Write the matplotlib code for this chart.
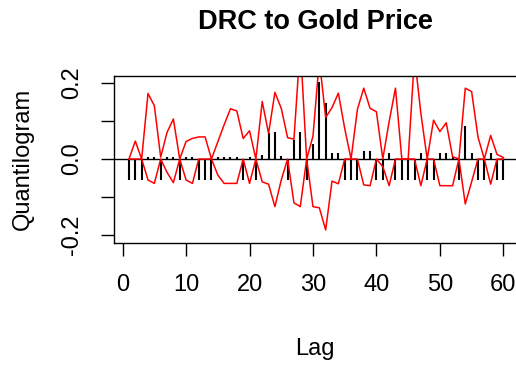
import numpy as np
import matplotlib
matplotlib.use("Agg")
import matplotlib.pyplot as plt

plt.rcParams['font.family'] = ['Liberation Sans', 'DejaVu Sans']

# quantilogram values, lags 1..60
lags = np.arange(1, 61)
q = [-0.056, -0.056, -0.056, 0.005, 0.005, -0.056, 0.005, 0.005, -0.056, 0.005,
     0.005, -0.056, -0.056, -0.056, 0.005, 0.005, 0.005, 0.005, -0.056, 0.005,
     -0.056, 0.010, 0.069, 0.071, 0.008, -0.056, 0.050, 0.071, -0.056, 0.040,
     0.203, 0.148, 0.017, 0.017, -0.056, -0.056, -0.056, 0.021, 0.021, -0.056,
     -0.056, 0.017, -0.056, -0.056, -0.056, -0.056, 0.015, -0.056, -0.056, 0.015,
     0.015, 0.005, -0.056, 0.087, 0.017, -0.056, -0.056, 0.015, -0.056, -0.056]

# upper and lower confidence bands
upper = [0.0, 0.047, 0.0, 0.172, 0.140, 0.005, 0.070, 0.105, 0.0, 0.046,
         0.054, 0.058, 0.058, 0.0, 0.045, 0.090, 0.132, 0.126, 0.054, 0.074,
         0.0, 0.151, 0.067, 0.175, 0.133, 0.056, 0.052, 0.300, 0.0, 0.060,
         0.260, 0.109, 0.135, 0.173, 0.080, 0.0, 0.130, 0.186, 0.133, 0.124,
         0.0, 0.098, 0.186, 0.0, 0.0, 0.270, 0.120, 0.0, 0.102, 0.072,
         0.095, 0.006, 0.0, 0.186, 0.177, 0.058, 0.0, 0.062, 0.012, 0.004]
lower = [0.0, 0.0, 0.0, -0.055, -0.064, 0.0, -0.035, -0.062, 0.0, -0.055,
         -0.064, 0.0, 0.0, 0.0, -0.042, -0.064, -0.064, -0.064, 0.0, -0.064,
         0.0, -0.060, -0.066, -0.125, -0.055, 0.0, -0.115, -0.125, 0.0, -0.125,
         -0.128, -0.186, -0.058, -0.065, 0.0, 0.0, 0.0, -0.068, -0.070, 0.0,
         -0.020, -0.070, 0.0, 0.0, 0.0, 0.0, -0.070, 0.0, 0.0, -0.070,
         -0.070, -0.070, 0.0, -0.118, -0.060, 0.0, 0.0, -0.066, 0.0, 0.0]

fig = plt.figure(figsize=(5.16, 3.65), dpi=100)
ax = fig.add_axes([0.2209, 0.335, 0.7836, 0.4575])

ax.vlines(lags, 0, q, colors='black', lw=1.5)
ax.axhline(0, color='black', lw=1)
ax.plot(lags, upper, color='red', lw=1.1)
ax.plot(lags, lower, color='red', lw=1.1)

ax.set_xlim(-1.36, 62.36)
ax.set_ylim(-0.2197, 0.2186)
ax.set_xticks(range(0, 61, 10))
ax.set_yticks([-0.2, -0.1, 0.0, 0.1, 0.2])
ax.set_yticklabels(['-0.2', '', '0.0', '', '0.2'], rotation=90, va='center')

for s in ax.spines.values():
    s.set_color('black')
    s.set_linewidth(1)
ax.tick_params(direction='out', length=9.4, width=1, labelsize=17, pad=13)

fig.text(0.6105, 0.9197, 'DRC to Gold Price', ha='center', va='baseline',
         fontsize=19.5, fontweight='bold')
fig.text(0.6095, 0.0274, 'Lag', ha='center', va='baseline', fontsize=17)
fig.text(0.0436, 0.564, 'Quantilogram', ha='center', va='center',
         rotation=90, fontsize=17)

fig.savefig('out.png', dpi=100)
